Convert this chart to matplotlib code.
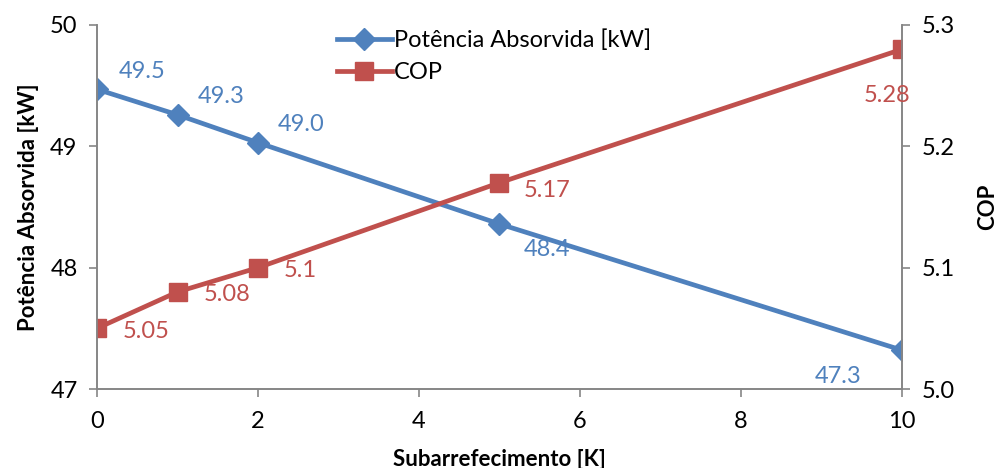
import matplotlib
matplotlib.use("Agg")
import matplotlib.pyplot as plt

# dados do ensaio
subarref = [0, 1, 2, 5, 10]
potencia = [49.47, 49.26, 49.03, 48.36, 47.32]
cop = [5.05, 5.08, 5.10, 5.17, 5.28]

# deslocamento (px) e alinhamento de cada rótulo em relação ao ponto
off_pot = [(22, 18, "left"), (20, 18, "left"), (20, 18, "left"),
           (24, -26, "left"), (-40, -26, "right")]
off_cop = [(26, -3, "left"), (26, -3, "left"), (26, -3, "left"),
           (24, -8, "left"), (8, -46, "right")]

azul = "#4F81BD"
verm = "#C0504D"
cinza = "#868686"

plt.rcParams["font.family"] = ["Lato", "DejaVu Sans"]

fig = plt.figure(figsize=(9.97, 4.68), dpi=100)
ax = fig.add_axes([0.0973, 0.1688, 0.8074, 0.7778])
ax2 = ax.twinx()

l1, = ax.plot(subarref, potencia, color=azul, lw=3.4, marker="D", ms=11,
              label="Potência Absorvida [kW]")
l2, = ax2.plot(subarref, cop, color=verm, lw=3.4, marker="s", ms=13,
               label="COP")

for x, y, (dx, dy, ha) in zip(subarref, potencia, off_pot):
    ax.annotate(f"{y:.1f}", (x, y), xytext=(dx, dy), textcoords="offset pixels",
                color=azul, fontsize=17, ha=ha, va="center")
for x, y, (dx, dy, ha) in zip(subarref, cop, off_cop):
    ax2.annotate(f"{y:g}", (x, y), xytext=(dx, dy), textcoords="offset pixels",
                 color=verm, fontsize=17, ha=ha, va="center")

ax.set_xlim(0, 10)
ax.set_ylim(47, 50)
ax2.set_ylim(5.0, 5.3)
ax.set_xticks([0, 2, 4, 6, 8, 10])
ax.set_yticks([47, 48, 49, 50])
ax2.set_yticks([5.0, 5.1, 5.2, 5.3])
ax2.set_yticklabels([f"{v:.1f}" for v in [5.0, 5.1, 5.2, 5.3]])

for a in (ax, ax2):
    a.spines["top"].set_visible(False)
    for s in ("left", "right", "bottom"):
        a.spines[s].set_color(cinza)
        a.spines[s].set_linewidth(1.2)
    a.tick_params(colors=cinza, labelcolor="black", length=6, width=1.2,
                  labelsize=17)
ax.tick_params(axis="x", pad=10)
ax.tick_params(axis="y", pad=8)
ax2.tick_params(axis="y", pad=8)

ax.set_xlabel("Subarrefecimento [K]", fontweight="bold", fontsize=16,
              labelpad=12)
ax.set_ylabel("Potência Absorvida [kW]", fontweight="bold", fontsize=16,
              labelpad=8)
ax2.set_ylabel("COP", fontweight="bold", fontsize=16, labelpad=16)

ax.legend([l1, l2], [l1.get_label(), l2.get_label()], loc="upper left",
          bbox_to_anchor=(0.272, 1.045), frameon=False, fontsize=17,
          handlelength=2.3, handletextpad=0.1, labelspacing=0.45)

fig.savefig("out.png", dpi=100)
